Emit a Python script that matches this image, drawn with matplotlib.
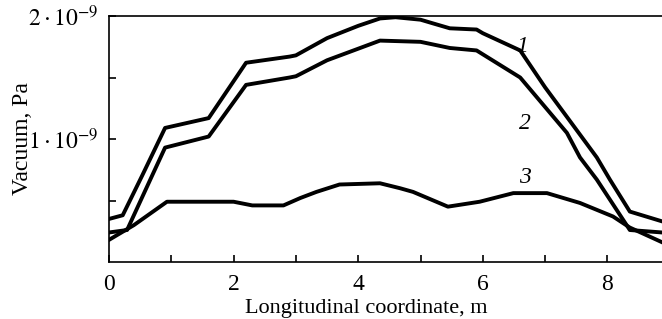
import matplotlib
matplotlib.use("Agg")
import matplotlib.pyplot as plt
from matplotlib.ticker import FixedLocator, FuncFormatter

plt.rcParams['font.family'] = ['Liberation Serif', 'DejaVu Serif']
plt.rcParams['mathtext.fontset'] = 'stix'

# Data (x in m, vacuum in units of 1e-9 Pa)
x1 = [0, 0.22, 0.53, 0.9, 1.6, 2.2, 2.9, 3.0, 3.5, 4.0, 4.35, 4.6, 5.0, 5.2, 5.47, 5.9, 6.0, 6.6, 7.0, 7.35, 7.83, 8.04, 8.36, 8.88]
y1 = [0.35, 0.38, 0.70, 1.09, 1.17, 1.62, 1.67, 1.68, 1.82, 1.92, 1.98, 1.99, 1.97, 1.94, 1.90, 1.89, 1.86, 1.72, 1.42, 1.18, 0.85, 0.67, 0.41, 0.33]

x2 = [0, 0.29, 0.69, 0.9, 1.6, 2.2, 2.9, 3.0, 3.5, 4.35, 5.0, 5.47, 5.9, 6.6, 7.0, 7.35, 7.56, 7.83, 8.36, 8.88]
y2 = [0.24, 0.26, 0.70, 0.93, 1.02, 1.44, 1.50, 1.51, 1.64, 1.80, 1.79, 1.74, 1.72, 1.50, 1.26, 1.05, 0.85, 0.67, 0.26, 0.24]

x3 = [0, 0.4, 0.93, 1.5, 2.0, 2.3, 2.8, 3.07, 3.33, 3.7, 4.35, 4.67, 4.88, 5.44, 5.95, 6.49, 7.03, 7.56, 8.09, 8.36, 8.88]
y3 = [0.18, 0.30, 0.49, 0.49, 0.49, 0.46, 0.46, 0.52, 0.57, 0.63, 0.64, 0.60, 0.57, 0.45, 0.49, 0.56, 0.56, 0.48, 0.37, 0.28, 0.16]

curve_labels = ['1', '2', '3']
label_pos = [(6.63, 1.75), (6.68, 1.13), (6.68, 0.69)]

scale = 1e-9

fig = plt.figure(figsize=(6.62, 3.19), dpi=100)
ax = fig.add_axes([109/662, (319-262)/319, 1 - 109/662, (262-16)/319])

for xs, ys in [(x1, y1), (x2, y2), (x3, y3)]:
    ax.plot(xs, [v * scale for v in ys], color='black', lw=2.8, solid_joinstyle='round')

for lab, (lx, ly) in zip(curve_labels, label_pos):
    ax.text(lx, ly * scale, lab, fontsize=17, style='italic', ha='center', va='center')

ax.set_xlim(0, (662 - 109) / 62.3)
ax.set_ylim(0, 2e-9)

ax.xaxis.set_major_locator(FixedLocator([0, 2, 4, 6, 8]))
ax.xaxis.set_minor_locator(FixedLocator([1, 3, 5, 7]))
ax.yaxis.set_major_locator(FixedLocator([1e-9, 2e-9]))
ax.yaxis.set_minor_locator(FixedLocator([0.5e-9, 1.5e-9]))
ax.yaxis.set_major_formatter(FuncFormatter(lambda v, p: r'$%d\cdot10^{-9}$' % round(v / 1e-9)))

ax.tick_params(which='both', direction='in', length=5, width=1.2)
ax.tick_params(axis='x', labelsize=17, pad=9)
ax.tick_params(axis='y', labelsize=17, pad=8)

ax.spines['right'].set_visible(False)
for s in ['left', 'bottom', 'top']:
    ax.spines[s].set_linewidth(1.2)

ax.set_xlabel('Longitudinal coordinate, m', fontsize=16)
ax.xaxis.label.set_verticalalignment('baseline')
ax.xaxis.set_label_coords((366 - 109) / 553, -(313 - 262) / 246)
ax.set_ylabel('Vacuum, Pa', fontsize=17)
ax.yaxis.set_label_coords(-0.137, 0.5)

fig.savefig('out.png', dpi=100)
